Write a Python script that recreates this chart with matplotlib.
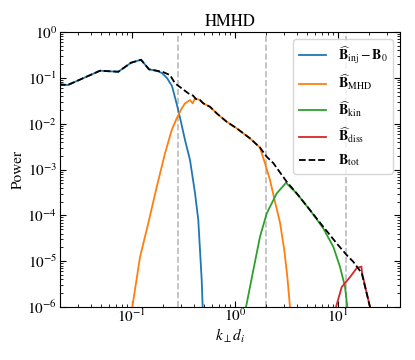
import matplotlib
matplotlib.use("Agg")
import matplotlib.pyplot as plt

plt.rcParams["font.family"] = "STIXGeneral"
plt.rcParams["mathtext.fontset"] = "stix"

# espectros (k_perp d_i, potencia)
k_tot = [0.01956, 0.02376, 0.0489, 0.07362, 0.09779, 0.1223, 0.1463, 0.1737,
         0.2, 0.2339, 0.2616, 0.3039, 0.3521, 0.3911, 0.4182, 0.4572, 0.4924,
         0.572, 0.6644, 0.8307, 1.039, 1.399, 1.748, 2.032, 2.354, 3.177,
         3.973, 5.348, 7.198, 9.714, 12.15, 14.08, 16.99, 19.0, 20.45]
p_tot = [0.0723, 0.0698, 0.1431, 0.1361, 0.2138, 0.2486, 0.1535, 0.1431,
         0.134, 0.1153, 0.076, 0.0591, 0.046, 0.0411, 0.0345, 0.0328, 0.0278,
         0.0234, 0.01683, 0.01104, 0.00792, 0.00479, 0.00302, 0.0019,
         0.001385, 5.41e-4, 3.02e-4, 1.306e-4, 5.64e-5, 2.45e-5, 1.362e-5,
         9.73e-6, 5.51e-6, 1.99e-6, 1.0e-6]

k_inj = [0.01956, 0.02376, 0.0489, 0.07362, 0.09779, 0.1223, 0.1463, 0.1737,
         0.1956, 0.2187, 0.2446, 0.2734, 0.2991, 0.3271, 0.3658, 0.409,
         0.4402, 0.4572, 0.475, 0.4857]
p_inj = [0.0723, 0.0698, 0.1431, 0.1361, 0.2138, 0.2486, 0.1535, 0.1431,
         0.1274, 0.0991, 0.0663, 0.02554, 0.01087, 0.0044, 0.00161, 3.07e-4,
         7.9e-5, 1.75e-5, 3.88e-6, 9.5e-7]

k_mhd = [0.1007, 0.1196, 0.144, 0.1737, 0.2091, 0.2429, 0.2716, 0.3039,
         0.3271, 0.3658, 0.3884, 0.409, 0.4572, 0.4924, 0.572, 0.6644,
         0.8307, 1.039, 1.399, 1.748, 1.956, 2.187, 2.446, 2.734, 3.01,
         3.22, 3.42]
p_mhd = [1.0e-6, 1.232e-5, 6.8e-5, 4.15e-4, 0.002256, 0.00727, 0.01309,
         0.02163, 0.0278, 0.0328, 0.0278, 0.0358, 0.0328, 0.0278, 0.0234,
         0.01683, 0.01104, 0.00792, 0.00479, 0.00302, 0.001365, 5.9e-4,
         1.983e-4, 6.97e-5, 1.75e-5, 4.58e-6, 1.0e-6]

k_kin = [1.279, 1.506, 1.748, 2.032, 2.541, 3.128, 3.973, 5.348, 7.198,
         9.003, 10.45, 11.7, 12.31]
p_kin = [1.0e-6, 6.41e-6, 3.42e-5, 1.107e-4, 3.02e-4, 5.15e-4, 3.02e-4,
         1.306e-4, 5.21e-5, 2.07e-5, 7.57e-6, 2.77e-6, 1.0e-6]

k_diss = [9.563, 10.86, 13.08, 15.19, 16.9, 17.1, 19.0, 20.45]
p_diss = [1.0e-6, 2.73e-6, 4.51e-6, 7.09e-6, 7.64e-6, 5.6e-6, 1.99e-6, 1.0e-6]

k_escalas = [0.28, 2.0, 12.0]

fig = plt.figure(figsize=(4.15, 3.6), dpi=100)
ax = fig.add_axes([0.1446, 0.147, 0.8193, 0.764])

for kv in k_escalas:
    ax.axvline(kv, color="#bbbbbb", ls="--", lw=1.2, zorder=1)

ax.plot(k_inj, p_inj, color="#1f77b4", lw=1.3, label=r"$\widehat{\mathbf{B}}_{\rm inj}-\mathbf{B}_0$")
ax.plot(k_mhd, p_mhd, color="#ff7f0e", lw=1.3, label=r"$\widehat{\mathbf{B}}_{\rm MHD}$")
ax.plot(k_kin, p_kin, color="#2ca02c", lw=1.3, label=r"$\widehat{\mathbf{B}}_{\rm kin}$")
ax.plot(k_diss, p_diss, color="#d62728", lw=1.3, label=r"$\widehat{\mathbf{B}}_{\rm diss}$")
ax.plot(k_tot, p_tot, "k--", lw=1.3, label=r"$\mathbf{B}_{\rm tot}$")

ax.set_xscale("log")
ax.set_yscale("log")
ax.set_xlim(0.02, 40)
ax.set_ylim(1e-6, 1)
ax.tick_params(which="both", direction="in", top=True, right=True, labelsize=11, pad=2)
ax.tick_params(axis="x", which="both", pad=0.5)
ax.tick_params(which="major", length=4)
ax.tick_params(which="minor", length=2)
ax.set_xlabel(r"$k_\perp d_i$", fontsize=11, labelpad=1)
ax.set_ylabel("Power", fontsize=11, labelpad=2)
ax.set_title("HMHD", fontsize=12, pad=4)
ax.legend(loc="upper right", fontsize=10)

fig.savefig("out.png", dpi=100)
